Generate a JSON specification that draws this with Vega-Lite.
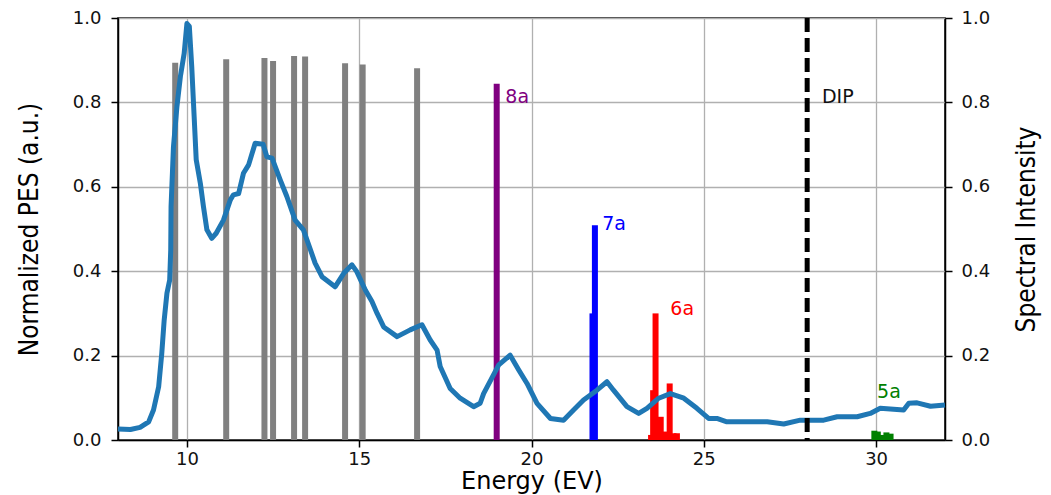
{
  "$schema": "https://vega.github.io/schema/vega-lite/v6.json",
  "width": 827,
  "height": 422,
  "autosize": {"type": "none"},
  "padding": {"left": 118, "top": 18, "right": 106, "bottom": 55},
  "background": "white",
  "config": {
    "view": {"stroke": "black", "strokeWidth": 1.5},
    "axis": {
      "labelFont": "DejaVu Sans",
      "labelFontSize": 18,
      "labelColor": "#111",
      "tickColor": "black",
      "tickSize": 7,
      "tickWidth": 1.5,
      "domainColor": "black",
      "domainWidth": 1.5,
      "gridColor": "#b0b0b0",
      "gridWidth": 1.3,
      "titleFontWeight": "normal",
      "titleColor": "black"
    }
  },
  "datasets": {
    "pes": [
      {"E": 8.0, "v": 0.026}, {"E": 8.36, "v": 0.025}, {"E": 8.64, "v": 0.030}, {"E": 8.89, "v": 0.043},
      {"E": 9.03, "v": 0.071}, {"E": 9.18, "v": 0.126}, {"E": 9.27, "v": 0.205}, {"E": 9.34, "v": 0.284},
      {"E": 9.42, "v": 0.348}, {"E": 9.50, "v": 0.379}, {"E": 9.53, "v": 0.45}, {"E": 9.54, "v": 0.553},
      {"E": 9.61, "v": 0.695}, {"E": 9.71, "v": 0.790}, {"E": 9.81, "v": 0.861}, {"E": 9.92, "v": 0.916},
      {"E": 10.0, "v": 0.987}, {"E": 10.07, "v": 0.98}, {"E": 10.14, "v": 0.885}, {"E": 10.21, "v": 0.766},
      {"E": 10.27, "v": 0.664}, {"E": 10.39, "v": 0.608}, {"E": 10.48, "v": 0.553}, {"E": 10.58, "v": 0.498},
      {"E": 10.72, "v": 0.478}, {"E": 10.85, "v": 0.490}, {"E": 11.06, "v": 0.521}, {"E": 11.26, "v": 0.569},
      {"E": 11.35, "v": 0.581}, {"E": 11.50, "v": 0.584}, {"E": 11.64, "v": 0.632}, {"E": 11.79, "v": 0.652},
      {"E": 11.98, "v": 0.703}, {"E": 12.21, "v": 0.701}, {"E": 12.32, "v": 0.671}, {"E": 12.47, "v": 0.668},
      {"E": 12.71, "v": 0.616}, {"E": 12.90, "v": 0.577}, {"E": 13.14, "v": 0.521}, {"E": 13.38, "v": 0.498},
      {"E": 13.58, "v": 0.452}, {"E": 13.72, "v": 0.419}, {"E": 13.92, "v": 0.387}, {"E": 14.30, "v": 0.363},
      {"E": 14.55, "v": 0.395}, {"E": 14.79, "v": 0.415}, {"E": 14.93, "v": 0.399}, {"E": 15.18, "v": 0.355},
      {"E": 15.37, "v": 0.328}, {"E": 15.52, "v": 0.300}, {"E": 15.71, "v": 0.268}, {"E": 16.10, "v": 0.245},
      {"E": 16.48, "v": 0.261}, {"E": 16.82, "v": 0.273}, {"E": 17.06, "v": 0.237}, {"E": 17.26, "v": 0.213},
      {"E": 17.35, "v": 0.174}, {"E": 17.64, "v": 0.122}, {"E": 17.93, "v": 0.099}, {"E": 18.32, "v": 0.079},
      {"E": 18.51, "v": 0.087}, {"E": 18.61, "v": 0.110}, {"E": 19.05, "v": 0.178}, {"E": 19.38, "v": 0.201},
      {"E": 19.63, "v": 0.166}, {"E": 19.87, "v": 0.134}, {"E": 20.16, "v": 0.087}, {"E": 20.55, "v": 0.051},
      {"E": 20.93, "v": 0.047}, {"E": 21.22, "v": 0.071}, {"E": 21.51, "v": 0.095}, {"E": 21.90, "v": 0.118},
      {"E": 22.19, "v": 0.138}, {"E": 22.38, "v": 0.118}, {"E": 22.77, "v": 0.079}, {"E": 23.11, "v": 0.063},
      {"E": 23.35, "v": 0.075}, {"E": 23.69, "v": 0.099}, {"E": 24.03, "v": 0.110}, {"E": 24.42, "v": 0.099},
      {"E": 24.80, "v": 0.075}, {"E": 25.14, "v": 0.051}, {"E": 25.38, "v": 0.051}, {"E": 25.67, "v": 0.043},
      {"E": 26.84, "v": 0.043}, {"E": 27.32, "v": 0.038}, {"E": 27.80, "v": 0.047}, {"E": 28.48, "v": 0.047},
      {"E": 28.87, "v": 0.055}, {"E": 29.45, "v": 0.055}, {"E": 29.83, "v": 0.063}, {"E": 30.12, "v": 0.075},
      {"E": 30.80, "v": 0.071}, {"E": 30.95, "v": 0.087}, {"E": 31.19, "v": 0.088}, {"E": 31.58, "v": 0.080},
      {"E": 32.0, "v": 0.083}
    ],
    "sticks": [
      {"E": 9.66, "h": 0.894, "grp": "other"}, {"E": 11.14, "h": 0.902, "grp": "other"},
      {"E": 12.25, "h": 0.905, "grp": "other"}, {"E": 12.50, "h": 0.898, "grp": "other"},
      {"E": 13.11, "h": 0.910, "grp": "other"}, {"E": 13.43, "h": 0.909, "grp": "other"},
      {"E": 14.59, "h": 0.893, "grp": "other"}, {"E": 15.10, "h": 0.890, "grp": "other"},
      {"E": 16.68, "h": 0.881, "grp": "other"},
      {"E": 18.99, "h": 0.844, "grp": "8a"},
      {"E": 21.84, "h": 0.509, "grp": "7a"}, {"E": 21.77, "h": 0.30, "grp": "7a"},
      {"E": 23.47, "h": 0.012, "grp": "6a"}, {"E": 23.53, "h": 0.118, "grp": "6a"},
      {"E": 23.60, "h": 0.300, "grp": "6a"}, {"E": 23.75, "h": 0.055, "grp": "6a"},
      {"E": 23.88, "h": 0.020, "grp": "6a"}, {"E": 24.01, "h": 0.134, "grp": "6a"},
      {"E": 24.12, "h": 0.016, "grp": "6a"}, {"E": 24.22, "h": 0.016, "grp": "6a"},
      {"E": 29.95, "h": 0.022, "grp": "5a"}, {"E": 30.05, "h": 0.020, "grp": "5a"},
      {"E": 30.17, "h": 0.012, "grp": "5a"}, {"E": 30.30, "h": 0.018, "grp": "5a"},
      {"E": 30.42, "h": 0.015, "grp": "5a"}
    ],
    "labels": [
      {"E": 19.24, "y": 0.799, "label": "8a", "grp": "8a"},
      {"E": 22.05, "y": 0.498, "label": "7a", "grp": "7a"},
      {"E": 24.03, "y": 0.296, "label": "6a", "grp": "6a"},
      {"E": 30.03, "y": 0.099, "label": "5a", "grp": "5a"},
      {"E": 28.43, "y": 0.799, "label": "DIP", "grp": "DIP"}
    ],
    "dip": [{"E": 28.0}]
  },
  "layer": [
    {
      "data": {"name": "sticks"},
      "mark": {"type": "rule", "strokeWidth": 6, "strokeCap": "butt"},
      "encoding": {
        "x": {"field": "E", "type": "quantitative",
              "scale": {"domain": [8, 32], "nice": false, "zero": false},
              "axis": {"values": [10, 15, 20, 25, 30], "grid": true, "title": "Energy (EV)",
                       "titleFont": "DejaVu Sans", "titleFontSize": 24, "titlePadding": 1, "labelPadding": 3,
                       "format": "d"}},
        "y": {"field": "h", "type": "quantitative",
              "scale": {"domain": [0, 1], "nice": false},
              "axis": {"orient": "right", "values": [0, 0.2, 0.4, 0.6, 0.8, 1.0], "format": ".1f",
                       "grid": false, "labelPadding": 9, "title": "Spectral Intensity",
                       "titleFont": "DejaVu Sans Condensed, Liberation Sans Narrow, DejaVu Sans",
                       "titleFontSize": 26, "titleAngle": -90, "titlePadding": 50}},
        "y2": {"datum": 0},
        "color": {"field": "grp", "type": "nominal", "legend": null,
                  "scale": {"domain": ["other", "8a", "7a", "6a", "5a", "DIP"],
                            "range": ["#808080", "#800080", "#0000ff", "#ff0000", "#008000", "#111111"]}}
      }
    },
    {
      "data": {"name": "pes"},
      "mark": {"type": "line", "color": "#1f77b4", "strokeWidth": 5, "strokeJoin": "round"},
      "encoding": {
        "x": {"field": "E", "type": "quantitative"},
        "y": {"field": "v", "type": "quantitative",
              "scale": {"domain": [0, 1], "nice": false},
              "axis": {"orient": "left", "values": [0, 0.2, 0.4, 0.6, 0.8, 1.0], "format": ".1f",
                       "grid": true, "labelPadding": 10, "title": "Normalized PES (a.u.)",
                       "titleFont": "DejaVu Sans Condensed, Liberation Sans Narrow, DejaVu Sans",
                       "titleFontSize": 26, "titlePadding": 30}}
      }
    },
    {
      "data": {"name": "dip"},
      "mark": {"type": "rule", "color": "black", "strokeWidth": 5, "strokeDash": [14, 6]},
      "encoding": {
        "x": {"field": "E", "type": "quantitative"}
      }
    },
    {
      "data": {"name": "labels"},
      "mark": {"type": "text", "align": "left", "baseline": "alphabetic", "font": "DejaVu Sans", "fontSize": 19},
      "encoding": {
        "x": {"field": "E", "type": "quantitative"},
        "y": {"field": "y", "type": "quantitative", "scale": {"domain": [0, 1], "nice": false}, "axis": null},
        "text": {"field": "label"},
        "color": {"field": "grp", "type": "nominal", "legend": null,
                  "scale": {"domain": ["other", "8a", "7a", "6a", "5a", "DIP"],
                            "range": ["#808080", "#800080", "#0000ff", "#ff0000", "#008000", "#111111"]}}
      }
    }
  ],
  "resolve": {"scale": {"y": "independent"}, "axis": {"y": "independent"}}
}
